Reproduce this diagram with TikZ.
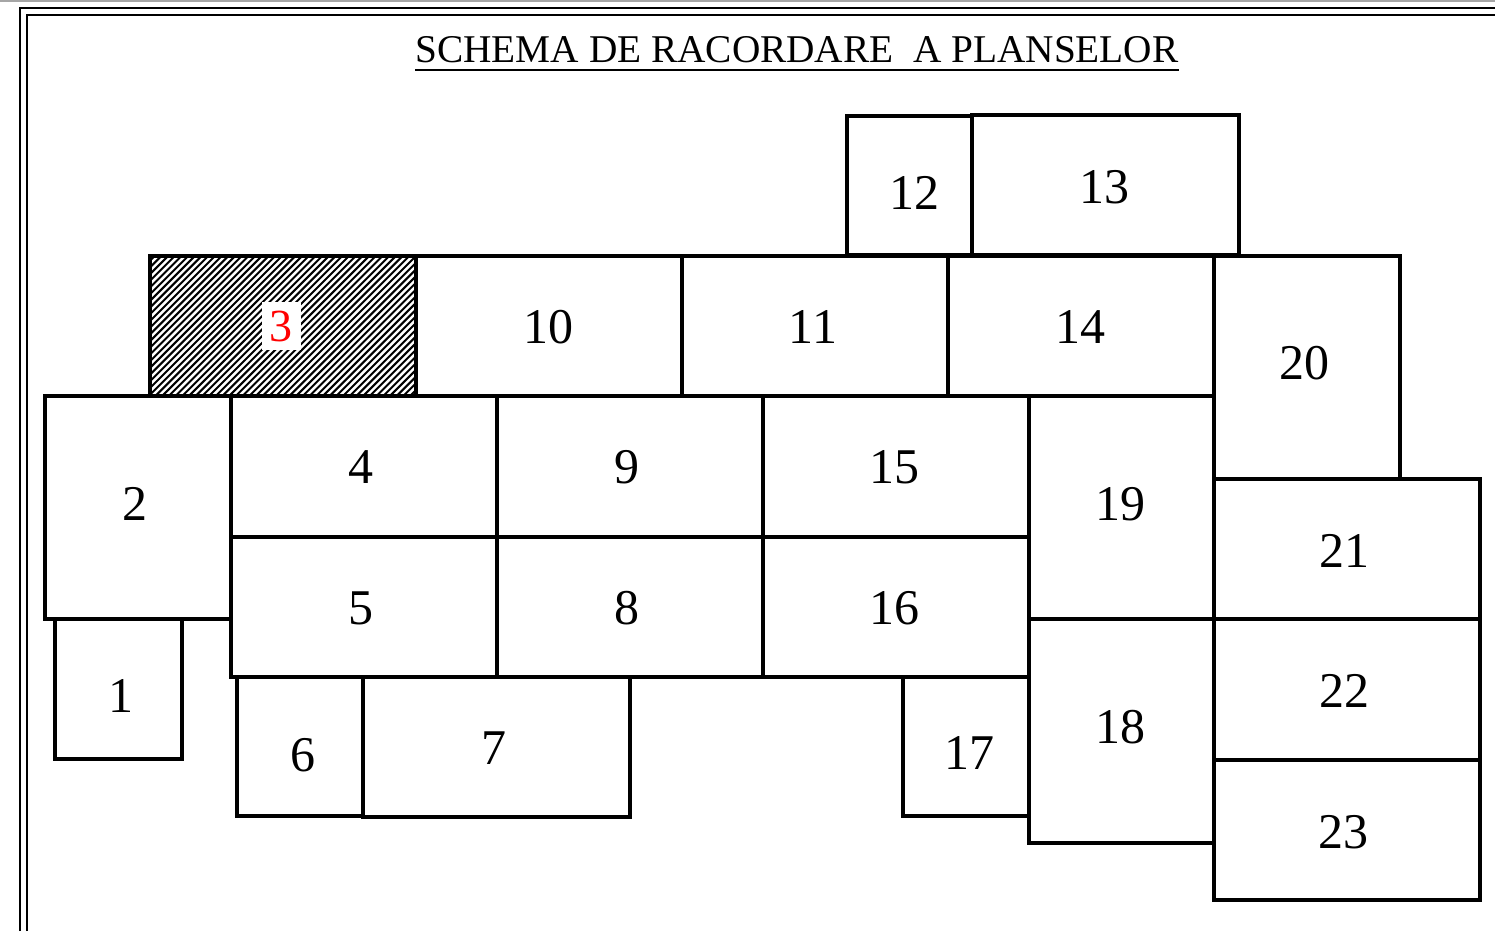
\documentclass[tikz,border=0pt]{standalone}
\usepackage{fontspec}
\setmainfont{Liberation Serif}
\begin{document}
\begin{tikzpicture}[x=1pt,y=-1pt,
  sheet/.style={draw=black,line width=3.4pt},
  lbl/.style={font=\fontsize{50}{50}\selectfont,inner sep=0pt},
  framel/.style={draw=black,line width=2.2pt},
  hatchl/.style={draw=black,line width=2pt}]
\useasboundingbox (0,0) rectangle (1495,931);
% frame
\draw[gray!70,line width=1.5pt] (0,1) -- (1495,1);
\draw[framel] (20,931) -- (20,8) -- (1495,8);
\draw[framel] (27,931) -- (27,15) -- (1495,15);
% title
\node[font=\fontsize{39.3}{40}\selectfont,inner sep=0pt,anchor=base] (title) at (797,63) {SCHEMA DE RACORDARE\ \ A PLANSELOR};
\draw[line width=2.2pt] ([yshift=-7pt]title.base west) -- ([yshift=-7pt]title.base east);
% hatched sheet 3
\begin{scope}
\clip (150,256) rectangle (416,396);
\foreach \a in {8,14.7,...,420} \draw[hatchl] (\a,396) -- ++(142,-142);
\end{scope}
\draw[sheet] (150,256) rectangle (416,396);
\node[lbl,font=\fontsize{46}{46}\selectfont,fill=white,text=red,minimum width=39pt,minimum height=48pt] (n3) at (281,326) {3};
% sheets
\draw[sheet] (416,256) rectangle (682,396);
\draw[sheet] (682,256) rectangle (948,396);
\draw[sheet] (948,256) rectangle (1214,396);
\draw[sheet] (1214,256) rectangle (1400,479);
\draw[sheet] (847,116) rectangle (972,255);
\draw[sheet] (972,115) rectangle (1239,255);
\draw[sheet] (45,396) rectangle (231,619);
\draw[sheet] (231,396) rectangle (497,537);
\draw[sheet] (497,396) rectangle (763,537);
\draw[sheet] (763,396) rectangle (1029,537);
\draw[sheet] (1029,396) rectangle (1214,619);
\draw[sheet] (231,537) rectangle (497,677);
\draw[sheet] (497,537) rectangle (763,677);
\draw[sheet] (763,537) rectangle (1029,677);
\draw[sheet] (1214,479) rectangle (1480,619);
\draw[sheet] (1214,619) rectangle (1480,760);
\draw[sheet] (1214,760) rectangle (1480,900);
\draw[sheet] (1029,619) rectangle (1214,843);
\draw[sheet] (903,677) rectangle (1029,816);
\draw[sheet] (55,619) rectangle (182,759);
\draw[sheet] (237,677) rectangle (363,816);
\draw[sheet] (363,677) rectangle (630,817);
% labels
\node[lbl] (n12) at (914,193) {12};
\node[lbl] (n13) at (1104,187) {13};
\node[lbl] (n10) at (548,327) {10};
\node[lbl] (n11) at (813,327) {11};
\node[lbl] (n14) at (1080,327) {14};
\node[lbl] (n20) at (1304,363) {20};
\node[lbl] (n2) at (135,504) {2};
\node[lbl] (n4) at (361,467) {4};
\node[lbl] (n9) at (627,467) {9};
\node[lbl] (n15) at (894,467) {15};
\node[lbl] (n19) at (1120,504) {19};
\node[lbl] (n5) at (361,608) {5};
\node[lbl] (n8) at (627,608) {8};
\node[lbl] (n16) at (894,608) {16};
\node[lbl] (n21) at (1344,551) {21};
\node[lbl] (n22) at (1344,691) {22};
\node[lbl] (n23) at (1343,832) {23};
\node[lbl] (n18) at (1120,727) {18};
\node[lbl] (n17) at (969,753) {17};
\node[lbl] (n1) at (121,696) {1};
\node[lbl] (n6) at (303,755) {6};
\node[lbl] (n7) at (494,748) {7};
\end{tikzpicture}
\end{document}
